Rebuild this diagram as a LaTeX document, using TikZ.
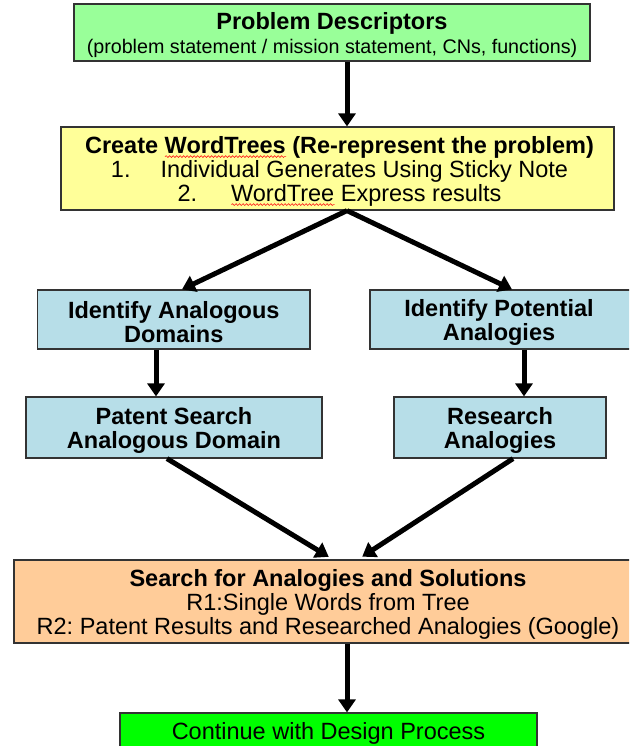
\documentclass[tikz,border=0pt]{standalone}
\usepackage{fontspec}
\setmainfont{Liberation Sans}
\usetikzlibrary{arrows.meta,decorations.pathmorphing}
\frenchspacing

% red wavy underline (spell-checker style)
\newsavebox\wavebox
\newlength\wavelen
\newcommand\spellwave[1]{%
  \sbox\wavebox{#1}\setlength\wavelen{\wd\wavebox}%
  \leavevmode\rlap{\tikz[baseline=0pt,x=1pt,y=1pt]\draw[red!90!white, line width=0.6pt,
      decorate, decoration={snake,amplitude=0.9pt,segment length=3.5pt}]
      (0pt,-3.5pt) -- (\wavelen,-3.5pt);}%
  \usebox\wavebox}

\newcommand\bodysize{\fontsize{23.5}{24}\selectfont\frenchspacing}
\newcommand\notesize{\fontsize{19.7}{24}\selectfont}

\definecolor{descgreen}{HTML}{99FF99}
\definecolor{treeyellow}{HTML}{FFFF99}
\definecolor{stepblue}{HTML}{B7DEE8}
\definecolor{searchorange}{HTML}{FFCC99}
\definecolor{goongreen}{HTML}{00FF00}

\tikzset{
  box/.style={draw=black!80, line width=1.2pt, inner sep=0pt},
  txt/.style={inner sep=0pt, align=center, font=\bodysize, yshift=-2.5pt},
  btxt/.style={txt, font=\bodysize\bfseries},
  arr/.style={line width=5pt, -{Triangle[width=17pt,length=13pt]}},
}

\begin{document}
\begin{tikzpicture}[x=1pt, y=-1pt]
  \useasboundingbox (0,0) rectangle (629,746);
  \clip (0,0) rectangle (629,746);

  % process boxes
  \node[box, fill=descgreen, minimum width=516pt, minimum height=57pt] (b1) at (332,32.5) {};
  \node[box, fill=treeyellow, minimum width=553pt, minimum height=83pt] (b2) at (337.5,168.5) {};
  \node[box, fill=stepblue, minimum width=272.5pt, minimum height=59pt] (b3) at (173.75,319.5) {};
  \node[box, fill=stepblue, minimum width=270pt, minimum height=59pt] (b4) at (505,319.5) {};
  \node[box, fill=stepblue, minimum width=296pt, minimum height=61pt] (b5) at (174,427.5) {};
  \node[box, fill=stepblue, minimum width=212pt, minimum height=61pt] (b6) at (500,427.5) {};
  \node[box, fill=searchorange, minimum width=628pt, minimum height=83pt] (b7) at (328,601.5) {};
  \node[box, fill=goongreen, minimum width=417pt, minimum height=35pt] (b8) at (328.5,730.5) {};

  % box texts
  \node[txt] (t1) at (b1)
    {{\bfseries Problem Descriptors}\\{\notesize (problem statement / mission statement, CNs, functions)}};
  \node[txt] (t2) at ([xshift=2pt]b2.center)
    {{\bfseries Create \spellwave{WordTrees} (Re-represent the problem)}\\
     1.\hspace{30pt}Individual Generates Using Sticky Note\\
     2.\hspace{34pt}\spellwave{WordTree} Express results};
  \node[btxt] (t3) at (b3) {Identify Analogous\\Domains};
  \node[btxt] (t4) at ([xshift=-6pt]b4.center) {Identify Potential\\Analogies};
  \node[btxt] (t5) at (b5) {Patent Search\\Analogous Domain};
  \node[btxt] (t6) at (b6) {Research\\Analogies};
  \node[txt] (t7) at (b7)
    {{\bfseries Search for Analogies and Solutions}\\
     R1:Single Words from Tree\\
     R2: Patent Results and Researched Analogies (Google)};
  \node[txt] (t8) at (b8) {Continue with Design Process};

  % connector columns
  \coordinate (xm) at (347,0);
  \coordinate (xl) at (182,0);
  \coordinate (xr) at (512,0);
  \coordinate (xa) at (156,0);
  \coordinate (xb) at (524,0);
  \coordinate (xc) at (167,0);
  \coordinate (xd) at (513,0);
  \coordinate (xe) at (333,0);
  \coordinate (xf) at (358,0);

  % connectors
  \draw[arr] (b1.south -| xm) -- (b2.north -| xm);
  \draw[arr] (b2.south -| xm) -- (b3.north -| xl);
  \draw[arr] (b2.south -| xm) -- (b4.north -| xr);
  \draw[arr] (b3.south -| xa) -- (b5.north -| xa);
  \draw[arr] (b4.south -| xb) -- (b6.north -| xb);
  \draw[arr, shorten >=5pt] (b5.south -| xc) -- (b7.north -| xe);
  \draw[arr, shorten >=5pt] (b6.south -| xd) -- (b7.north -| xf);
  \draw[arr] (b7.south -| xm) -- (b8.north -| xm);
\end{tikzpicture}
\end{document}
